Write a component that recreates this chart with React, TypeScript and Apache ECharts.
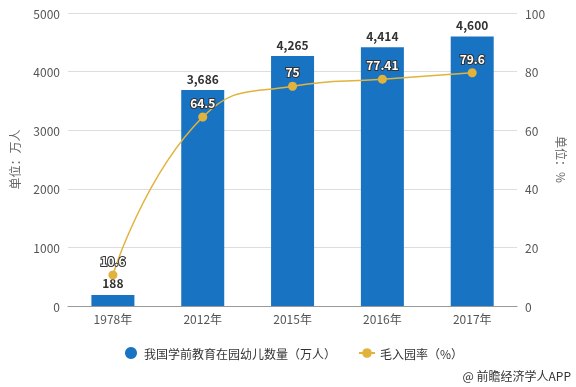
import React, { useEffect, useRef } from "react";
import * as echarts from "echarts";

const categories = ["1978年", "2012年", "2015年", "2016年", "2017年"];
const enrolment = [188, 3686, 4265, 4414, 4600];
const grossRate = [10.6, 64.5, 75, 77.41, 79.6];
const leftTicks = [0, 1000, 2000, 3000, 4000, 5000];
const rightTicks = [0, 20, 40, 60, 80, 100];

const FONT = "'Noto Sans CJK SC', 'Noto Sans', sans-serif";

export default function App() {
  const ref = useRef<HTMLDivElement>(null);
  useEffect(() => {
    if (!ref.current) return;
    const chart = echarts.init(ref.current, undefined, { renderer: "svg" });
    chart.setOption({
      animation: false,
      textStyle: { fontFamily: FONT },
      grid: { left: 67, right: 53, top: 13, bottom: 81 },
      legend: {
        bottom: 23,
        left: 120,
        itemGap: 22,
        itemWidth: 16,
        itemHeight: 12,
        textStyle: { fontSize: 12, color: "#333", fontFamily: FONT },
        data: [
          { name: "我国学前教育在园幼儿数量（万人）", icon: "circle" },
          { name: "毛入园率（%）" },
        ],
      },
      graphic: [
        {
          type: "text",
          right: 5,
          bottom: 6,
          style: { text: "@ 前瞻经济学人APP", fontSize: 12, fill: "#333", fontFamily: FONT },
        },
      ],
      xAxis: {
        type: "category",
        data: categories,
        axisLine: { lineStyle: { color: "#999" } },
        axisTick: { alignWithLabel: true, length: 4, lineStyle: { color: "#999" } },
        axisLabel: { color: "#555", fontSize: 12, margin: 6 },
      },
      yAxis: [
        {
          type: "value",
          min: leftTicks[0],
          max: leftTicks[leftTicks.length - 1],
          interval: 1000,
          name: "单位：万人",
          nameLocation: "middle",
          nameGap: 48,
          nameRotate: 90,
          nameTextStyle: { color: "#666", fontSize: 12 },
          axisLine: { show: false },
          axisTick: { show: false },
          axisLabel: { color: "#555", fontSize: 12, formatter: (v: number) => String(v) },
          splitLine: { lineStyle: { color: "#ddd" } },
        },
        {
          type: "value",
          min: rightTicks[0],
          max: rightTicks[rightTicks.length - 1],
          interval: 20,
          name: "单位：%",
          nameLocation: "middle",
          nameGap: 36,
          nameRotate: -90,
          nameTextStyle: { color: "#666", fontSize: 12 },
          axisLine: { show: false },
          axisTick: { show: false },
          axisLabel: { color: "#555", fontSize: 12 },
          splitLine: { show: false },
        },
      ],
      series: [
        {
          name: "我国学前教育在园幼儿数量（万人）",
          type: "bar",
          data: enrolment,
          barWidth: 43,
          itemStyle: { color: "#1874c3" },
          label: {
            show: true,
            position: "top",
            distance: 6,
            fontWeight: "bold",
            fontSize: 12,
            color: "#333",
            formatter: (p: any) => Number(p.value).toLocaleString("en-US"),
          },
        },
        {
          name: "毛入园率（%）",
          type: "line",
          yAxisIndex: 1,
          data: grossRate,
          smooth: true,
          symbol: "circle",
          symbolSize: 9,
          lineStyle: { color: "#e2b33c", width: 1.5 },
          itemStyle: { color: "#e2b33c" },
          label: {
            show: true,
            position: "top",
            distance: 4,
            fontWeight: "bold",
            fontSize: 12,
            color: "#fff",
            textBorderColor: "#333",
            textBorderWidth: 2,
          },
        },
      ],
    });
    return () => chart.dispose();
  }, []);
  return (
    <div
      ref={ref}
      style={{ position: "fixed", left: 0, top: 0, width: 576, height: 387 }}
    />
  );
}
